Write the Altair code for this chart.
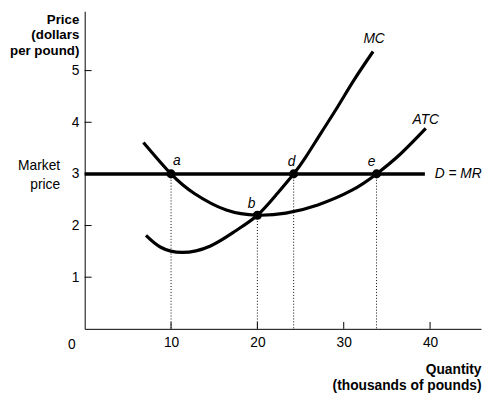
import altair as alt
import pandas as pd

# Marginal cost curve (thousands of pounds, dollars per pound)
mc_x = [7.1, 8.8, 11.3, 14.5, 17.5, 20.0, 22.2, 24.2, 25.5, 27.4, 29.3, 31.2, 33.4]
mc_y = [1.81, 1.58, 1.48, 1.6, 1.9, 2.2, 2.6, 3.0, 3.3, 3.8, 4.3, 4.82, 5.37]

# Average total cost curve
atc_x = [6.8, 10.0, 12.7, 16.4, 20.0, 23.3, 27.0, 30.9, 33.8, 36.6, 39.5]
atc_y = [3.61, 3.0, 2.62, 2.30, 2.2, 2.24, 2.40, 2.68, 3.0, 3.39, 3.88]

# Market price (D = MR)
price = 3.0
price_x_end = 39.4

# Labelled points
pt_names = ["a", "b", "d", "e"]
pt_x = [10.0, 20.0, 24.2, 33.8]
pt_y = [3.0, 2.2, 3.0, 3.0]

x_ticks = [10, 20, 30, 40]
y_ticks = [1, 2, 3, 4, 5]

W, H = 403, 323
FONT = "Liberation Sans"

mc_df = pd.DataFrame({"q": mc_x, "p": mc_y})
atc_df = pd.DataFrame({"q": atc_x, "p": atc_y})
pts_df = pd.DataFrame({"name": pt_names, "q": pt_x, "p": pt_y})
price_df = pd.DataFrame({"q": [0.0], "q2": [price_x_end], "p": [price]})
xt_df = pd.DataFrame({"q": x_ticks})
yt_df = pd.DataFrame({"p": y_ticks})

xs = alt.Scale(domain=[0, 45.9], nice=False, zero=False)
ys = alt.Scale(domain=[0, 6.15], nice=False, zero=False)

x_axis = alt.Axis(
    values=x_ticks, ticks=False, tickSize=0, domainColor="black", domainWidth=1,
    labelFont=FONT, labelFontSize=14, labelColor="black", labelPadding=7, grid=False,
    title=["Quantity", "(thousands of pounds)"], titleFont=FONT, titleFontSize=14,
    titleFontWeight="bold", titleColor="black", titleAnchor="end", titleAlign="right",
    titleX=W, titleY=34, titleBaseline="top", titleLineHeight=17)
y_axis = alt.Axis(
    values=y_ticks, ticks=False, tickSize=0, domainColor="black", domainWidth=1,
    labelFont=FONT, labelFontSize=14, labelColor="black", labelPadding=6, grid=False,
    title=["Price", "(dollars", "per pound)"], titleFont=FONT, titleFontSize=13.5,
    titleFontWeight="bold", titleColor="black", titleAngle=0, titleAlign="right",
    titleX=-6, titleY=1, titleBaseline="top", titleLineHeight=16)

def X(f="q"):
    return alt.X(f"{f}:Q", scale=xs, axis=x_axis)

def Y(f="p"):
    return alt.Y(f"{f}:Q", scale=ys, axis=y_axis)

xticks = alt.Chart(xt_df).mark_rule(color="black", strokeWidth=1).encode(
    x=X(), y=alt.value(H), y2=alt.value(H - 7))
yticks = alt.Chart(yt_df).mark_rule(color="black", strokeWidth=1).encode(
    y=Y(), x=alt.value(0), x2=alt.value(7))

drops = alt.Chart(pts_df).mark_rule(color="black", strokeWidth=1, strokeDash=[1, 2]).encode(
    x=X(), y=Y(), y2=alt.datum(0))

price_line = alt.Chart(price_df).mark_rule(color="black", strokeWidth=3.5).encode(
    x=X(), x2="q2:Q", y=Y())

mc_line = alt.Chart(mc_df).mark_line(color="black", strokeWidth=3.2, interpolate="natural").encode(
    x=X(), y=Y(), order="q:Q")
atc_line = alt.Chart(atc_df).mark_line(color="black", strokeWidth=3.2, interpolate="natural").encode(
    x=X(), y=Y(), order="q:Q")

dots = alt.Chart(pts_df).mark_circle(color="black", size=85, opacity=1).encode(x=X(), y=Y())

def lab(df, dx, dy, align="center", italic=True):
    return alt.Chart(df).mark_text(
        font=FONT, fontSize=14, fontStyle="italic" if italic else "normal",
        color="black", dx=dx, dy=dy, align=align, baseline="middle").encode(
        x=X(), y=Y(), text="name:N")

lab_a = lab(pts_df[pts_df.name == "a"], 6, -13)
lab_b = lab(pts_df[pts_df.name == "b"], -6, -11)
lab_d = lab(pts_df[pts_df.name == "d"], -2, -12)
lab_e = lab(pts_df[pts_df.name == "e"], -5, -12)
lab_mc = lab(pd.DataFrame({"name": ["MC"], "q": [mc_x[-1]], "p": [mc_y[-1]]}), 1, -13)
lab_atc = lab(pd.DataFrame({"name": ["ATC"], "q": [atc_x[-1]], "p": [atc_y[-1]]}), 0, -9)
lab_dmr = lab(pd.DataFrame({"name": ["D = MR"], "q": [price_x_end], "p": [price]}), 10, 0, align="left")
lab_zero = lab(pd.DataFrame({"name": ["0"], "q": [0.0], "p": [0.0]}), -13, 16, italic=False)
lab_mkt = lab(pd.DataFrame({"name": ["Market"], "q": [0.0], "p": [price]}), -25, -8, align="right", italic=False)
lab_prc = lab(pd.DataFrame({"name": ["price"], "q": [0.0], "p": [price]}), -25, 11, align="right", italic=False)

chart = alt.layer(
    xticks, yticks, drops, price_line, atc_line, mc_line, dots,
    lab_a, lab_b, lab_d, lab_e, lab_mc, lab_atc, lab_dmr, lab_zero, lab_mkt, lab_prc,
).properties(
    width=W, height=H,
    autosize=alt.AutoSizeParams(type="none"),
    padding={"left": 78, "top": 0, "right": 1, "bottom": 64},
    background="white",
).configure_view(stroke=None)

chart.save("out.html", embed_options={"renderer": "svg", "actions": False})
